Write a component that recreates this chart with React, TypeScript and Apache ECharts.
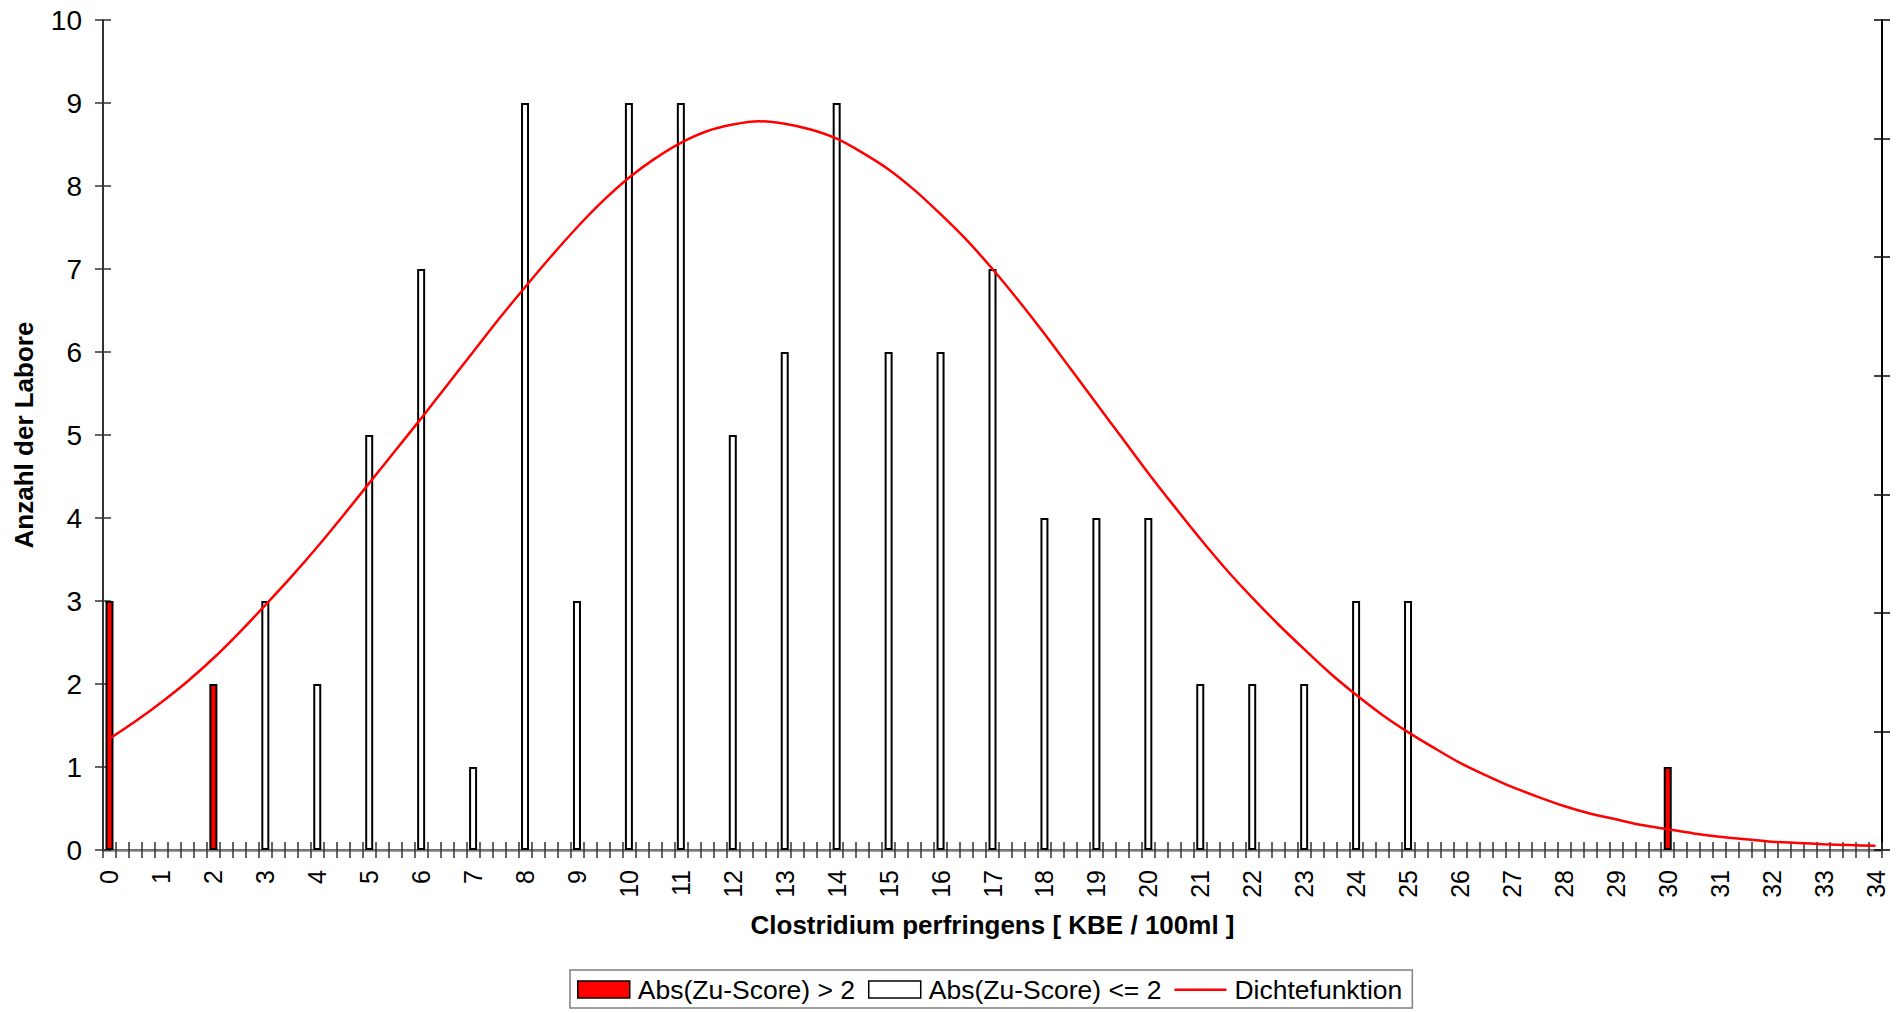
import React, { useEffect, useRef } from "react";
import * as echarts from "echarts";

// x positions (KBE / 100ml) and counts
const redX = [0, 2, 30];
const redCounts = [3, 2, 1];
const whiteX = [3, 4, 5, 6, 7, 8, 9, 10, 11, 12, 13, 14, 15, 16, 17, 18, 19, 20, 21, 22, 23, 24, 25];
const whiteCounts = [3, 2, 5, 7, 1, 9, 3, 9, 9, 5, 6, 9, 6, 6, 7, 4, 4, 4, 2, 2, 2, 3, 3];

// density curve at half-unit steps (in count-axis units)
const densX = [
  0, 0.5, 1, 1.5, 2, 2.5, 3, 3.5, 4, 4.5, 5, 5.5, 6, 6.5, 7, 7.5, 8, 8.5, 9, 9.5,
  10, 10.5, 11, 11.5, 12, 12.5, 13, 13.5, 14, 14.5, 15, 15.5, 16, 16.5, 17, 17.5,
  18, 18.5, 19, 19.5, 20, 20.5, 21, 21.5, 22, 22.5, 23, 23.5, 24, 24.5, 25, 25.5,
  26, 26.5, 27, 27.5, 28, 28.5, 29, 29.5, 30, 30.5, 31, 31.5, 32, 32.5, 33, 33.5, 34,
];
const densY = [
  1.34, 1.55, 1.78, 2.03, 2.31, 2.62, 2.95, 3.29, 3.65, 4.03, 4.42, 4.81, 5.2, 5.6, 6.0, 6.4, 6.78, 7.15, 7.5, 7.82,
  8.1, 8.33, 8.52, 8.66, 8.74, 8.78, 8.75, 8.68, 8.57, 8.4, 8.2, 7.95, 7.66, 7.35, 7.0, 6.62,
  6.22, 5.8, 5.38, 4.96, 4.54, 4.14, 3.75, 3.38, 3.04, 2.72, 2.42, 2.13, 1.87, 1.63, 1.42, 1.23,
  1.05, 0.9, 0.76, 0.64, 0.53, 0.44, 0.37, 0.3, 0.25, 0.2, 0.16, 0.13, 0.1, 0.085, 0.07, 0.06, 0.05,
];

const xMax = 34;
const stepsPerUnit = 4;

const FONT = "'Liberation Sans', Arial, sans-serif";
const LINE_ICON = "path://M0,7.5 L52,7.5 L52,10 L0,10 Z M0,0 L0.01,0 L0.01,0.01 Z M0,17 L0.01,17 L0.01,17.01 Z";

export default function App() {
  const ref = useRef<HTMLDivElement>(null);
  useEffect(() => {
    if (!ref.current) return;
    const chart = echarts.init(ref.current, undefined, { renderer: "svg" });
    const n = xMax * stepsPerUnit + 1;
    const cats: string[] = [];
    for (let i = 0; i < n; i++) {
      cats.push(i % stepsPerUnit === 0 ? String(i / stepsPerUnit) : "");
    }
    const redData: (number | null)[] = new Array(n).fill(null);
    redX.forEach((x, i) => (redData[x * stepsPerUnit] = redCounts[i]));
    const whiteData: (number | null)[] = new Array(n).fill(null);
    whiteX.forEach((x, i) => (whiteData[x * stepsPerUnit] = whiteCounts[i]));
    const lineData = densX.map((x, i) => [x * stepsPerUnit, densY[i]]);

    const axisDark = "#333333";
    chart.setOption({
      animation: false,
      backgroundColor: "#ffffff",
      grid: { left: 103, right: 17, top: 20, bottom: 163, containLabel: false },
      legend: {
        top: 970,
        left: 570,
        width: 1100,
        borderColor: "#808080",
        borderWidth: 1.5,
        padding: [6, 10, 5, 7],
        itemGap: 13,
        itemWidth: 52,
        itemHeight: 17,
        textStyle: { fontFamily: FONT, fontSize: 26.5, color: "#000", padding: [0, 0, 0, 3] },
        data: [
          { name: "Abs(Zu-Score) > 2", icon: "rect", itemStyle: { color: "#ff0000", borderColor: "#000", borderWidth: 1.5 } },
          { name: "Abs(Zu-Score) <= 2", icon: "rect", itemStyle: { color: "#ffffff", borderColor: "#000", borderWidth: 1.5 } },
          { name: "Dichtefunktion", icon: LINE_ICON, itemStyle: { color: "#ff0000", borderWidth: 0 } },
        ],
      },
      xAxis: [
        {
          type: "category",
          data: cats,
          position: "bottom",
          boundaryGap: true,
          name: "Clostridium perfringens [ KBE / 100ml ]",
          nameLocation: "middle",
          nameGap: 62,
          nameTextStyle: { fontFamily: FONT, fontSize: 26, fontWeight: "bold", color: "#000" },
          axisLine: { lineStyle: { color: axisDark, width: 2 } },
          axisTick: { show: true, inside: false, length: 8, interval: 0, lineStyle: { color: axisDark, width: 1.5 } },
          axisLabel: { interval: 0, rotate: 90, margin: 20, fontFamily: FONT, fontSize: 25, color: "#000" },
          splitLine: { show: false },
        },
        {
          type: "category",
          data: cats,
          position: "bottom",
          boundaryGap: true,
          axisLine: { show: false },
          axisTick: { show: true, inside: true, length: 8, interval: 0, lineStyle: { color: axisDark, width: 1.5 } },
          axisLabel: { show: false },
          splitLine: { show: false },
        },
        {
          type: "category",
          data: cats,
          position: "top",
          axisLine: { lineStyle: { color: "#808080", width: 2.5 } },
          axisTick: { show: false },
          axisLabel: { show: false },
          splitLine: { show: false },
        },
      ],
      yAxis: [
        {
          type: "value",
          min: 0,
          max: 10,
          interval: 1,
          position: "left",
          name: "Anzahl der Labore",
          nameLocation: "middle",
          nameGap: 66,
          nameRotate: 90,
          nameTextStyle: { fontFamily: FONT, fontSize: 26, fontWeight: "bold", color: "#000" },
          axisLine: { show: true, lineStyle: { color: axisDark, width: 2 } },
          axisTick: { show: true, inside: false, length: 8, lineStyle: { color: axisDark, width: 1.5 } },
          axisLabel: { margin: 21, fontFamily: FONT, fontSize: 28, color: "#000" },
          splitLine: { show: false },
        },
        {
          type: "value",
          min: 0,
          max: 10,
          interval: 1,
          position: "left",
          axisLine: { show: false },
          axisTick: { show: true, inside: true, length: 8, lineStyle: { color: axisDark, width: 1.5 } },
          axisLabel: { show: false },
          splitLine: { show: false },
        },
        {
          type: "value",
          min: 0,
          max: 7,
          interval: 1,
          position: "right",
          axisLine: { show: true, lineStyle: { color: "#000", width: 2 } },
          axisTick: { show: true, inside: false, length: 8, lineStyle: { color: "#000", width: 1.5 } },
          axisLabel: { show: false },
          splitLine: { show: false },
        },
        {
          type: "value",
          min: 0,
          max: 7,
          interval: 1,
          position: "right",
          axisLine: { show: false },
          axisTick: { show: true, inside: true, length: 8, lineStyle: { color: "#000", width: 1.5 } },
          axisLabel: { show: false },
          splitLine: { show: false },
        },
      ],
      series: [
        {
          name: "Abs(Zu-Score) > 2",
          type: "bar",
          data: redData,
          barWidth: 8,
          barGap: "-100%",
          itemStyle: { color: "#ff0000", borderColor: "#000", borderWidth: 2 },
          z: 3,
        },
        {
          name: "Abs(Zu-Score) <= 2",
          type: "bar",
          data: whiteData,
          barWidth: 8,
          barGap: "-100%",
          itemStyle: { color: "#ffffff", borderColor: "#000", borderWidth: 2 },
          z: 3,
        },
        {
          name: "Dichtefunktion",
          type: "line",
          data: lineData,
          smooth: 0.3,
          showSymbol: false,
          symbol: "none",
          lineStyle: { color: "#ff0000", width: 2.5 },
          itemStyle: { color: "#ff0000" },
          z: 4,
        },
      ],
    });
    return () => chart.dispose();
  }, []);
  return (
    <div
      ref={ref}
      style={{ position: "fixed", left: 0, top: 0, width: 1899, height: 1013, background: "#fff" }}
    />
  );
}
